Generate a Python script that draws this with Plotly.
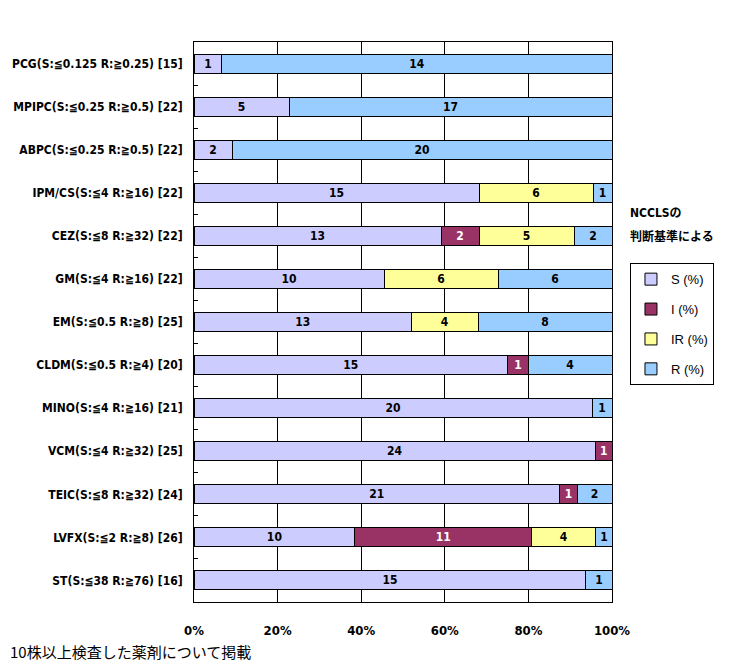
import plotly.graph_objects as go

# Drug labels (top to bottom) and isolate counts per category
drugs = [
    "PCG(S:≦0.125 R:≧0.25) [15]",
    "MPIPC(S:≦0.25 R:≧0.5) [22]",
    "ABPC(S:≦0.25 R:≧0.5) [22]",
    "IPM/CS(S:≦4 R:≧16) [22]",
    "CEZ(S:≦8 R:≧32) [22]",
    "GM(S:≦4 R:≧16) [22]",
    "EM(S:≦0.5 R:≧8) [25]",
    "CLDM(S:≦0.5 R:≧4) [20]",
    "MINO(S:≦4 R:≧16) [21]",
    "VCM(S:≦4 R:≧32) [25]",
    "TEIC(S:≦8 R:≧32) [24]",
    "LVFX(S:≦2 R:≧8) [26]",
    "ST(S:≦38 R:≧76) [16]",
]
s_counts = [1, 5, 2, 15, 13, 10, 13, 15, 20, 24, 21, 10, 15]
i_counts = [None, None, None, None, 2, None, None, 1, None, 1, 1, 11, None]
ir_counts = [None, None, None, 6, 5, 6, 4, None, None, None, None, 4, None]
r_counts = [14, 17, 20, 1, 2, 6, 8, 4, 1, None, 2, 1, 1]

x_ticks = [0, 20, 40, 60, 80, 100]
x_tick_text = ["0%", "20%", "40%", "60%", "80%", "100%"]

series = [
    ("S (%)", s_counts, "#CCCCFF", "black"),
    ("I (%)", i_counts, "#993366", "white"),
    ("IR (%)", ir_counts, "#FFFF99", "black"),
    ("R (%)", r_counts, "#99CCFF", "black"),
]

narrow = "DejaVu Sans Condensed, Liberation Sans Narrow, Noto Sans CJK JP, sans-serif"

fig = go.Figure()
for name, vals, color, txt_color in series:
    fig.add_trace(go.Bar(
        y=drugs,
        x=vals,
        name=name,
        orientation="h",
        marker=dict(color=color, line=dict(color="black", width=1)),
        text=[("" if v is None else str(v)) for v in vals],
        textposition="inside",
        insidetextanchor="middle",
        textangle=0,
        textfont=dict(family=narrow, size=12, color=txt_color, weight="bold"),
        legendgroup=name,
        hoverinfo="skip",
    ))

# page body has an 8px margin, so the figure is a little smaller than the window
fig.update_layout(
    width=729, height=663,
    barmode="stack",
    barnorm="percent",
    bargap=0.56,
    plot_bgcolor="white",
    paper_bgcolor="white",
    margin=dict(l=186, r=125, t=34, b=69),
    showlegend=True,
    legend=dict(
        x=1.043, y=0.605, xanchor="left", yanchor="top",
        bordercolor="black", borderwidth=1, bgcolor="white",
        traceorder="grouped", tracegroupgap=10,
        font=dict(family="Liberation Sans, Noto Sans CJK JP", size=13, color="black"),
    ),
    uniformtext=dict(mode="show", minsize=12),
    xaxis=dict(
        range=[0, 100],
        tickvals=x_ticks,
        ticktext=x_tick_text,
        showgrid=True, gridcolor="black", gridwidth=1,
        showline=True, linecolor="black", linewidth=1, mirror=True,
        ticks="", zeroline=False,
        ticklabelstandoff=16,
        automargin=False,
        tickfont=dict(family=narrow, size=13, color="black", weight="bold"),
    ),
    yaxis=dict(
        autorange="reversed",
        showline=True, linecolor="black", linewidth=1, mirror=True,
        ticks="inside", ticklen=4, tickcolor="black", tickson="boundaries",
        showgrid=False,
        ticklabelstandoff=8,
        automargin=False,
        tickfont=dict(family=narrow, size=12, color="black", weight="bold"),
    ),
    annotations=[
        dict(text="NCCLSの", xref="paper", yref="paper",
             x=1.038, y=0.695, xanchor="left", yanchor="middle",
             showarrow=False,
             font=dict(family=narrow, size=12, color="black", weight="bold")),
        dict(text="判断基準による", xref="paper", yref="paper",
             x=1.038, y=0.655, xanchor="left", yanchor="middle",
             showarrow=False,
             font=dict(family="Noto Sans CJK JP", size=12, color="black", weight="bold")),
        dict(text="10株以上検査した薬剤について掲載", xref="paper", yref="paper",
             x=-0.445, y=-0.089, xanchor="left", yanchor="middle",
             showarrow=False,
             font=dict(family="Noto Sans CJK JP", size=15, color="black")),
    ],
)

fig.write_html("out.html")
